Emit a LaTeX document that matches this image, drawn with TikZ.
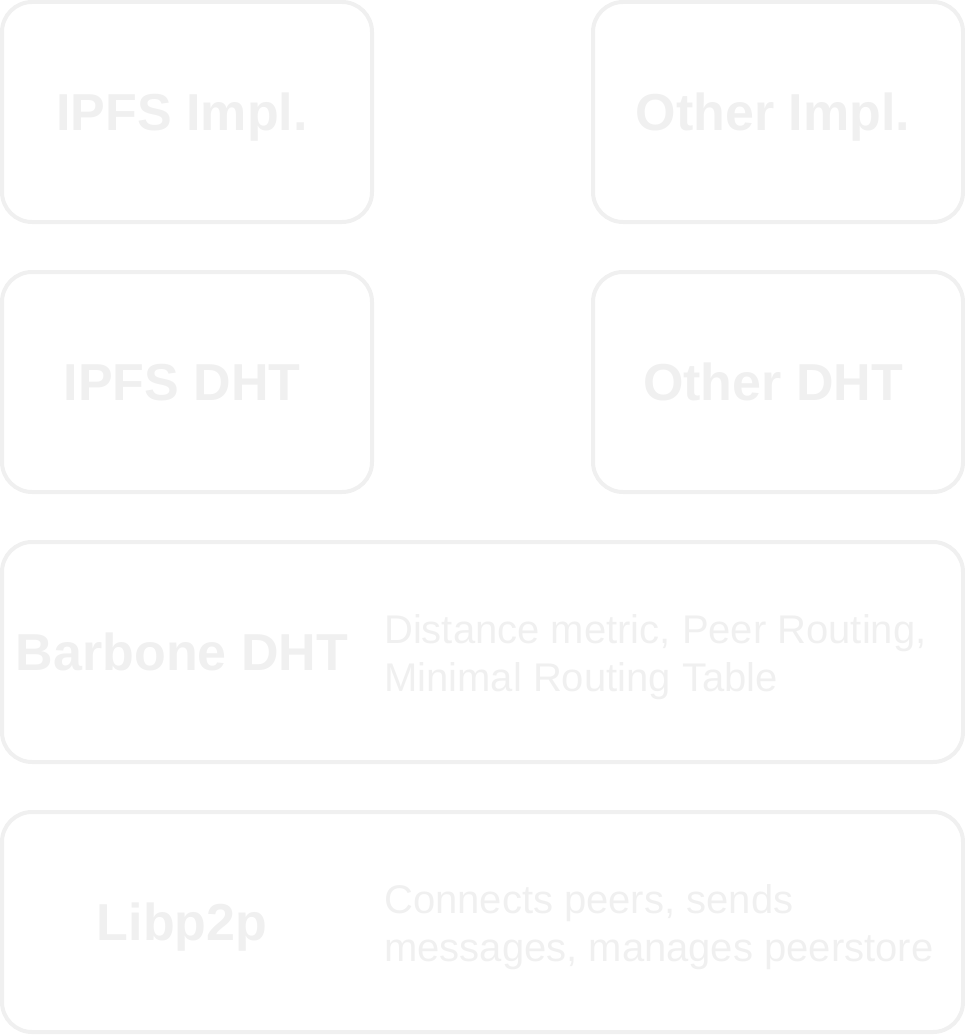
\documentclass[tikz,border=0pt]{standalone}
\usepackage{fontspec}
\setmainfont{Liberation Sans}
\usetikzlibrary{positioning}
\definecolor{faint}{HTML}{F0F0F0}

\begin{document}
\begin{tikzpicture}[x=1pt,y=-1pt,
    layer/.style={draw=faint,line width=4pt,rounded corners=30pt,
      minimum height=220pt,inner sep=0pt,outer sep=0pt},
    narrow/.style={layer,minimum width=370pt},
    wide/.style={layer,minimum width=961pt},
    title/.style={text=faint,font=\bfseries\fontsize{52}{62}\selectfont,
      anchor=base,inner sep=0pt},
    blurb/.style={text=faint,font=\fontsize{40}{48}\selectfont,
      align=left,anchor=west,inner sep=0pt}]
  \useasboundingbox (0,0) rectangle (965,1035);
  % boxes
  \node[narrow] (ipfsimpl) at (187,112) {};
  \node[narrow,right=221pt of ipfsimpl] (otherimpl) {};
  \node[narrow,below=50pt of ipfsimpl] (ipfsdht) {};
  \node[narrow,below=50pt of otherimpl] (otherdht) {};
  \node[wide,below=50pt of ipfsdht.south west,anchor=north west] (barbone) {};
  \node[wide,below=50pt of barbone] (libp2p) {};
  % titles
  \node[title] (ipfsimplT) at ([xshift=-5pt,yshift=-18.5pt]ipfsimpl.center) {IPFS Impl.};
  \node[title] (otherimplT) at ([xshift=-5pt,yshift=-18.5pt]otherimpl.center) {Other Impl.};
  \node[title] (ipfsdhtT) at ([xshift=-5pt,yshift=-18.5pt]ipfsdht.center) {IPFS DHT};
  \node[title] (otherdhtT) at ([xshift=-5pt,yshift=-18.5pt]otherdht.center) {Other DHT};
  \node[title] (barboneT) at ([yshift=-18.5pt]ipfsimplT.base |- barbone.center) {Barbone DHT};
  \node[title] (libp2pT) at ([yshift=-18.5pt]ipfsimplT.base |- libp2p.center) {Libp2p};
  % descriptions
  \node[blurb] (barboneD) at ([xshift=382pt,yshift=-5pt]barbone.west)
    {Distance metric, Peer Routing,\\Minimal Routing Table};
  \node[blurb] (libp2pD) at ([xshift=382pt,yshift=-5pt]libp2p.west)
    {Connects peers, sends\\messages, manages peerstore};
\end{tikzpicture}
\end{document}
